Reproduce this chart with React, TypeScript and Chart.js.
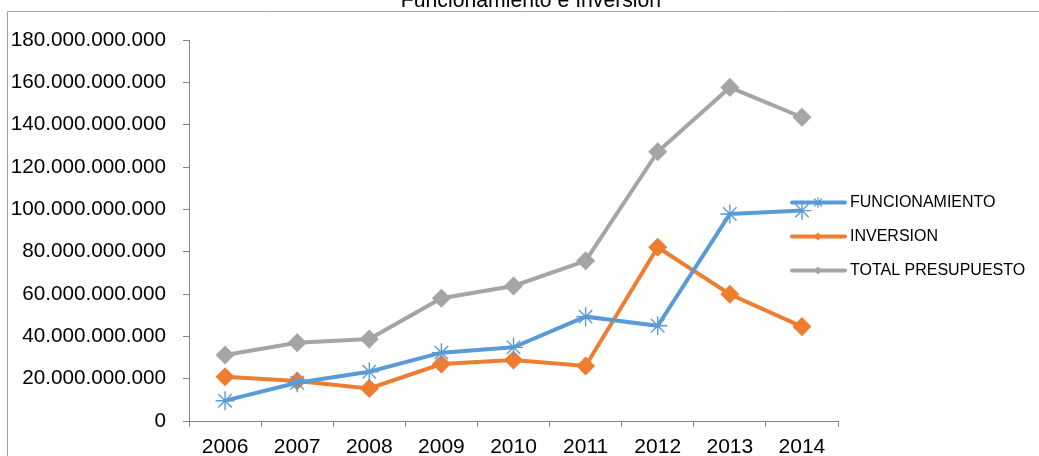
import React, { useEffect, useRef } from 'react';
import { Chart, registerables } from 'chart.js';

Chart.register(...registerables);

const chartTitle = 'Funcionamiento e Inversion';
const years = ['2006', '2007', '2008', '2009', '2010', '2011', '2012', '2013', '2014'];
const seriesNames = ['FUNCIONAMIENTO', 'INVERSION', 'TOTAL PRESUPUESTO'];
const funcionamiento = [9.6e9, 18.1e9, 23.3e9, 32.3e9, 34.8e9, 49.3e9, 45.0e9, 97.8e9, 99.4e9];
const inversion = [20.9e9, 18.9e9, 15.4e9, 26.9e9, 28.8e9, 26.0e9, 82.1e9, 59.9e9, 44.6e9];
const totalPresupuesto = [31.2e9, 37.0e9, 38.7e9, 58.0e9, 63.8e9, 75.7e9, 127.2e9, 157.6e9, 143.5e9];
const yMin = 0;
const yMax = 180e9;
const yStep = 20e9;

const BLUE = '#5b9bd5';
const ORANGE = '#ed7d31';
const GRAY = '#a5a5a5';
const AXIS = '#868686';
const FONT = '"Liberation Sans", Arial, sans-serif';

const fmt = (v: number) => String(Math.round(v)).replace(/\B(?=(\d{3})+(?!\d))/g, '.');

function drawMarker(ctx: CanvasRenderingContext2D, style: string, x: number, y: number, r: number, color: string) {
  ctx.save();
  ctx.strokeStyle = color;
  ctx.fillStyle = color;
  if (style === 'star') {
    ctx.lineWidth = 1.2;
    ctx.beginPath();
    for (let i = 0; i < 4; i++) {
      const a = (i * Math.PI) / 4;
      ctx.moveTo(x - Math.cos(a) * r, y - Math.sin(a) * r);
      ctx.lineTo(x + Math.cos(a) * r, y + Math.sin(a) * r);
    }
    ctx.stroke();
  } else {
    ctx.beginPath();
    ctx.moveTo(x, y - r);
    ctx.lineTo(x + r, y);
    ctx.lineTo(x, y + r);
    ctx.lineTo(x - r, y);
    ctx.closePath();
    ctx.fill();
  }
  ctx.restore();
}

const decorPlugin = {
  id: 'decor',
  beforeDraw(chart: any) {
    const ctx: CanvasRenderingContext2D = chart.ctx;
    ctx.save();
    ctx.fillStyle = '#ffffff';
    ctx.fillRect(0, 0, chart.width, chart.height);
    ctx.strokeStyle = '#a0a0a0';
    ctx.lineWidth = 1;
    ctx.beginPath();
    ctx.moveTo(7.5, chart.height);
    ctx.lineTo(7.5, 11.5);
    ctx.lineTo(chart.width, 11.5);
    ctx.stroke();
    ctx.fillStyle = '#000000';
    ctx.font = `21.2px ${FONT}`;
    ctx.textAlign = 'center';
    ctx.textBaseline = 'alphabetic';
    ctx.fillText(chartTitle, 531, 7);
    ctx.restore();
  },
  afterDraw(chart: any) {
    const ctx: CanvasRenderingContext2D = chart.ctx;
    ctx.save();
    chart.data.datasets.forEach((ds: any, i: number) => {
      const y = 202.5 + i * 34;
      ctx.strokeStyle = ds.borderColor;
      ctx.lineWidth = 4;
      ctx.lineCap = 'round';
      ctx.beginPath();
      ctx.moveTo(792, y);
      ctx.lineTo(845, y);
      ctx.stroke();
      drawMarker(ctx, ds.pointStyle, 818, y, ds.pointStyle === 'star' ? 5 : 4, ds.borderColor);
      ctx.fillStyle = '#000000';
      ctx.font = `16px ${FONT}`;
      ctx.textAlign = 'left';
      ctx.textBaseline = 'middle';
      ctx.fillText(ds.label, 850, y + 0.5);
    });
    ctx.restore();
  },
};

export default function App() {
  const ref = useRef<HTMLCanvasElement>(null);
  useEffect(() => {
    if (!ref.current) return;
    const chart = new Chart(ref.current, {
      type: 'line',
      data: {
        labels: years,
        datasets: [
          {
            label: seriesNames[0],
            data: funcionamiento,
            borderColor: BLUE,
            backgroundColor: BLUE,
            borderWidth: 4,
            pointStyle: 'star',
            pointRadius: 9.5,
            pointBorderWidth: 1.4,
            pointBorderColor: BLUE,
            pointBackgroundColor: BLUE,
            tension: 0,
          },
          {
            label: seriesNames[1],
            data: inversion,
            borderColor: ORANGE,
            backgroundColor: ORANGE,
            borderWidth: 4,
            pointStyle: 'rectRot',
            pointRadius: 8.5,
            pointBorderWidth: 1.5,
            pointBorderColor: ORANGE,
            pointBackgroundColor: ORANGE,
            tension: 0,
          },
          {
            label: seriesNames[2],
            data: totalPresupuesto,
            borderColor: GRAY,
            backgroundColor: GRAY,
            borderWidth: 4,
            pointStyle: 'rectRot',
            pointRadius: 8.5,
            pointBorderWidth: 1.5,
            pointBorderColor: GRAY,
            pointBackgroundColor: GRAY,
            tension: 0,
          },
        ],
      },
      options: {
        responsive: false,
        animation: false,
        devicePixelRatio: 1,
        layout: { padding: { top: 40, right: 201, bottom: 0, left: 0 } },
        plugins: {
          legend: { display: false },
          title: { display: false },
          tooltip: { enabled: false },
        },
        scales: {
          x: {
            type: 'category',
            offset: true,
            grid: {
              offset: true,
              drawOnChartArea: false,
              drawTicks: true,
              tickLength: 6,
              color: AXIS,
            },
            border: { display: true, color: AXIS, width: 1 },
            ticks: {
              color: '#000000',
              font: { family: FONT, size: 21 },
              padding: 8,
              maxRotation: 0,
              autoSkip: false,
            },
            afterFit(scale: any) {
              scale.height = 35;
            },
          },
          y: {
            min: yMin,
            max: yMax,
            grid: {
              drawOnChartArea: false,
              drawTicks: true,
              tickLength: 6,
              color: AXIS,
            },
            border: { display: true, color: AXIS, width: 1 },
            ticks: {
              stepSize: yStep,
              color: '#000000',
              font: { family: FONT, size: 20.7 },
              padding: 17,
              callback: (v: any) => fmt(Number(v)),
            },
            afterFit(scale: any) {
              scale.width = 189;
            },
          },
        },
      },
      plugins: [decorPlugin],
    });
    return () => chart.destroy();
  }, []);
  return (
    <div style={{ position: 'absolute', left: 0, top: 0, width: 1039, height: 456, background: '#fff' }}>
      <canvas ref={ref} width={1039} height={456} style={{ display: 'block' }} />
    </div>
  );
}
